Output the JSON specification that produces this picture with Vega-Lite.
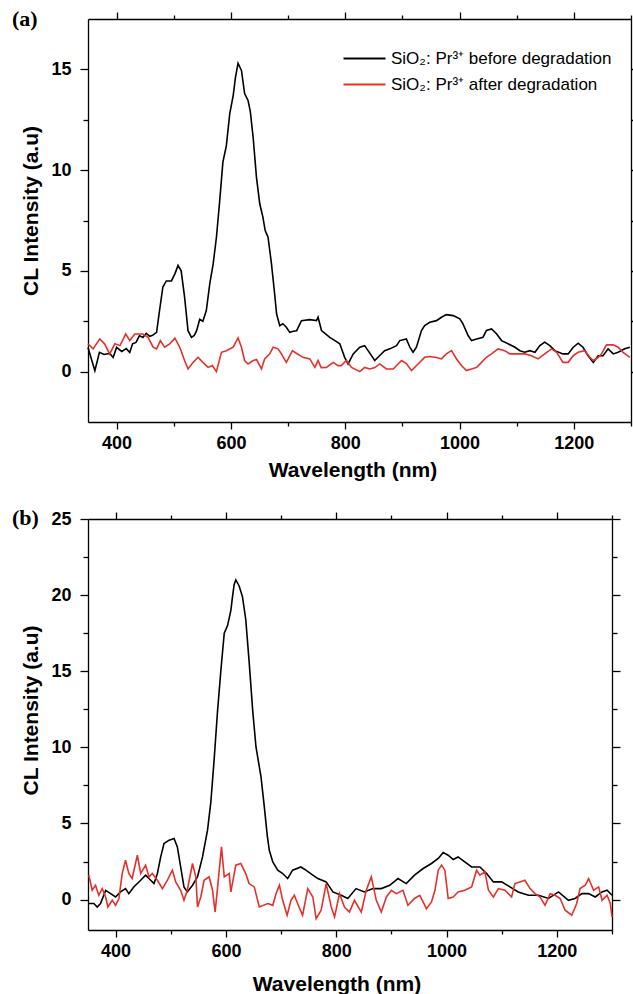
{
"$schema": "https://vega.github.io/schema/vega-lite/v6.json",
"padding": {"left": 12, "top": 8, "right": 0, "bottom": 0},
"background": "white",
"bounds": "flush",
"spacing": 97,
"config": {
  "font": "Liberation Sans",
  "view": {"stroke": null},
  "axis": {"grid": false, "domainColor": "black", "tickColor": "black", "labelColor": "black", "titleColor": "black", "labelFont": "Liberation Sans", "labelFontWeight": "bold", "labelFontSize": 18, "titleFont": "Liberation Sans", "titleFontSize": 21, "titleFontWeight": "bold", "domainWidth": 1.3, "tickWidth": 1.3, "labelOverlap": false, "labelFlush": false, "format": "d"},
  "legend": {"orient": "none", "title": null, "symbolType": "M-3,0H3", "symbolSize": 196, "symbolStrokeWidth": 1.8, "labelFont": "Liberation Sans", "labelFontSize": 17, "labelColor": "black", "labelOffset": 18, "rowPadding": 6, "padding": 0, "labelLimit": 0}
},
"datasets": {
"a": [
{"series":"before","wl":350,"intensity":1.2},{"series":"before","wl":362,"intensity":0.05},{"series":"before","wl":370,"intensity":0.96},{"series":"before","wl":378,"intensity":0.85},{"series":"before","wl":388,"intensity":0.9},{"series":"before","wl":394,"intensity":0.7},{"series":"before","wl":400,"intensity":1.2},{"series":"before","wl":409,"intensity":1.0},{"series":"before","wl":417,"intensity":1.14},{"series":"before","wl":423,"intensity":0.95},{"series":"before","wl":428,"intensity":1.38},{"series":"before","wl":434,"intensity":1.45},{"series":"before","wl":440,"intensity":1.79},{"series":"before","wl":446,"intensity":1.7},{"series":"before","wl":452,"intensity":1.9},{"series":"before","wl":458,"intensity":1.75},{"series":"before","wl":463,"intensity":1.8},{"series":"before","wl":470,"intensity":1.95},{"series":"before","wl":475,"intensity":3.0},{"series":"before","wl":481,"intensity":4.2},{"series":"before","wl":487,"intensity":4.5},{"series":"before","wl":496,"intensity":4.5},{"series":"before","wl":502,"intensity":4.85},{"series":"before","wl":507.5,"intensity":5.27},{"series":"before","wl":513,"intensity":5.0},{"series":"before","wl":519,"intensity":3.7},{"series":"before","wl":525,"intensity":2.03},{"series":"before","wl":531,"intensity":1.7},{"series":"before","wl":536,"intensity":1.8},{"series":"before","wl":540,"intensity":2.03},{"series":"before","wl":545.5,"intensity":2.6},{"series":"before","wl":551,"intensity":2.5},{"series":"before","wl":557,"intensity":3.03},{"series":"before","wl":563,"intensity":4.35},{"series":"before","wl":569,"intensity":5.35},{"series":"before","wl":574.7,"intensity":6.67},{"series":"before","wl":580.5,"intensity":8.5},{"series":"before","wl":586,"intensity":10.4},{"series":"before","wl":592,"intensity":11.2},{"series":"before","wl":598,"intensity":12.8},{"series":"before","wl":604,"intensity":13.7},{"series":"before","wl":608,"intensity":14.6},{"series":"before","wl":612.5,"intensity":15.3},{"series":"before","wl":618.5,"intensity":14.95},{"series":"before","wl":624,"intensity":13.8},{"series":"before","wl":630,"intensity":13.46},{"series":"before","wl":634,"intensity":12.9},{"series":"before","wl":639,"intensity":11.6},{"series":"before","wl":644.7,"intensity":9.65},{"series":"before","wl":650.5,"intensity":8.33},{"series":"before","wl":656,"intensity":7.67},{"series":"before","wl":660,"intensity":7.0},{"series":"before","wl":665,"intensity":6.67},{"series":"before","wl":671,"intensity":5.35},{"series":"before","wl":676,"intensity":4.0},{"series":"before","wl":680,"intensity":2.86},{"series":"before","wl":685.5,"intensity":2.28},{"series":"before","wl":691,"intensity":2.38},{"series":"before","wl":697,"intensity":2.2},{"series":"before","wl":703,"intensity":1.95},{"series":"before","wl":709,"intensity":2.0},{"series":"before","wl":715,"intensity":2.03},{"series":"before","wl":723.5,"intensity":2.53},{"series":"before","wl":738,"intensity":2.58},{"series":"before","wl":749.7,"intensity":2.53},{"series":"before","wl":752.5,"intensity":2.7},{"series":"before","wl":758.5,"intensity":2.04},{"series":"before","wl":773,"intensity":1.7},{"series":"before","wl":782,"intensity":1.54},{"series":"before","wl":790.5,"intensity":1.38},{"series":"before","wl":799,"intensity":0.71},{"series":"before","wl":805,"intensity":0.38},{"series":"before","wl":814,"intensity":0.88},{"series":"before","wl":825.5,"intensity":1.21},{"series":"before","wl":834,"intensity":1.29},{"series":"before","wl":840,"intensity":1.04},{"series":"before","wl":851.7,"intensity":0.55},{"series":"before","wl":860.5,"intensity":0.8},{"series":"before","wl":869,"intensity":1.04},{"series":"before","wl":878,"intensity":1.13},{"series":"before","wl":889.7,"intensity":1.29},{"series":"before","wl":895.5,"intensity":1.54},{"series":"before","wl":907,"intensity":1.62},{"series":"before","wl":913,"intensity":1.21},{"series":"before","wl":918.7,"intensity":0.96},{"series":"before","wl":924.6,"intensity":1.21},{"series":"before","wl":933.4,"intensity":2.04},{"series":"before","wl":939,"intensity":2.28},{"series":"before","wl":948,"intensity":2.45},{"series":"before","wl":959.7,"intensity":2.53},{"series":"before","wl":968.4,"intensity":2.7},{"series":"before","wl":977,"intensity":2.83},{"series":"before","wl":989,"intensity":2.78},{"series":"before","wl":1000.5,"intensity":2.62},{"series":"before","wl":1006,"intensity":2.37},{"series":"before","wl":1015,"intensity":1.79},{"series":"before","wl":1021,"intensity":1.54},{"series":"before","wl":1030,"intensity":1.62},{"series":"before","wl":1041,"intensity":1.7},{"series":"before","wl":1047,"intensity":2.04},{"series":"before","wl":1056,"intensity":2.12},{"series":"before","wl":1065,"intensity":1.87},{"series":"before","wl":1073.5,"intensity":1.54},{"series":"before","wl":1085,"intensity":1.38},{"series":"before","wl":1097,"intensity":1.21},{"series":"before","wl":1105.5,"intensity":1.04},{"series":"before","wl":1114,"intensity":0.96},{"series":"before","wl":1123,"intensity":1.04},{"series":"before","wl":1132,"intensity":0.96},{"series":"before","wl":1140.5,"intensity":1.29},{"series":"before","wl":1149,"intensity":1.46},{"series":"before","wl":1158,"intensity":1.29},{"series":"before","wl":1166.7,"intensity":1.04},{"series":"before","wl":1181,"intensity":0.88},{"series":"before","wl":1190,"intensity":0.88},{"series":"before","wl":1199,"intensity":1.21},{"series":"before","wl":1207.5,"intensity":1.41},{"series":"before","wl":1216,"intensity":1.21},{"series":"before","wl":1225,"intensity":0.79},{"series":"before","wl":1234,"intensity":0.46},{"series":"before","wl":1242.5,"intensity":0.79},{"series":"before","wl":1251,"intensity":0.79},{"series":"before","wl":1260,"intensity":1.13},{"series":"before","wl":1269,"intensity":0.88},{"series":"before","wl":1277.5,"intensity":0.96},{"series":"before","wl":1289,"intensity":1.13},{"series":"before","wl":1298,"intensity":1.21},
{"series":"after","wl":350,"intensity":1.38},{"series":"after","wl":359,"intensity":1.13},{"series":"after","wl":370.5,"intensity":1.62},{"series":"after","wl":379,"intensity":1.38},{"series":"after","wl":388,"intensity":0.88},{"series":"after","wl":397,"intensity":1.38},{"series":"after","wl":406,"intensity":1.29},{"series":"after","wl":416,"intensity":1.87},{"series":"after","wl":423,"intensity":1.54},{"series":"after","wl":432,"intensity":1.87},{"series":"after","wl":446,"intensity":1.87},{"series":"after","wl":455,"intensity":1.7},{"series":"after","wl":464,"intensity":1.21},{"series":"after","wl":470,"intensity":1.13},{"series":"after","wl":476.6,"intensity":1.54},{"series":"after","wl":484,"intensity":1.21},{"series":"after","wl":493,"intensity":1.38},{"series":"after","wl":502,"intensity":1.66},{"series":"after","wl":510.5,"intensity":1.21},{"series":"after","wl":519,"intensity":0.55},{"series":"after","wl":525,"intensity":0.13},{"series":"after","wl":534,"intensity":0.46},{"series":"after","wl":542.5,"intensity":0.71},{"series":"after","wl":551,"intensity":0.46},{"series":"after","wl":560,"intensity":0.21},{"series":"after","wl":567.7,"intensity":0.3},{"series":"after","wl":574.6,"intensity":0.0},{"series":"after","wl":583.5,"intensity":0.96},{"series":"after","wl":592,"intensity":1.04},{"series":"after","wl":604,"intensity":1.21},{"series":"after","wl":612.5,"intensity":1.67},{"series":"after","wl":618.5,"intensity":1.21},{"series":"after","wl":624,"intensity":0.55},{"series":"after","wl":630,"intensity":0.38},{"series":"after","wl":639,"intensity":0.55},{"series":"after","wl":645,"intensity":0.6},{"series":"after","wl":653.5,"intensity":0.13},{"series":"after","wl":659,"intensity":0.63},{"series":"after","wl":668,"intensity":0.88},{"series":"after","wl":674,"intensity":1.21},{"series":"after","wl":682.5,"intensity":1.13},{"series":"after","wl":688.4,"intensity":0.88},{"series":"after","wl":697,"intensity":0.46},{"series":"after","wl":707.7,"intensity":1.04},{"series":"after","wl":715,"intensity":0.9},{"series":"after","wl":726,"intensity":0.71},{"series":"after","wl":738,"intensity":0.63},{"series":"after","wl":747,"intensity":0.21},{"series":"after","wl":752.5,"intensity":0.55},{"series":"after","wl":758,"intensity":0.2},{"series":"after","wl":767,"intensity":0.21},{"series":"after","wl":779,"intensity":0.46},{"series":"after","wl":787.5,"intensity":0.3},{"series":"after","wl":793,"intensity":0.3},{"series":"after","wl":802,"intensity":0.55},{"series":"after","wl":811,"intensity":0.21},{"series":"after","wl":825.5,"intensity":0.0},{"series":"after","wl":834,"intensity":0.21},{"series":"after","wl":843,"intensity":0.13},{"series":"after","wl":852,"intensity":0.2},{"series":"after","wl":860.5,"intensity":0.38},{"series":"after","wl":872,"intensity":0.13},{"series":"after","wl":884,"intensity":0.13},{"series":"after","wl":898.5,"intensity":0.55},{"series":"after","wl":907,"intensity":0.4},{"series":"after","wl":916,"intensity":0.05},{"series":"after","wl":927.5,"intensity":0.38},{"series":"after","wl":939,"intensity":0.71},{"series":"after","wl":948,"intensity":0.75},{"series":"after","wl":959.7,"intensity":0.7},{"series":"after","wl":968.4,"intensity":0.63},{"series":"after","wl":977,"intensity":0.88},{"series":"after","wl":986,"intensity":1.04},{"series":"after","wl":994.7,"intensity":0.63},{"series":"after","wl":1003.5,"intensity":0.3},{"series":"after","wl":1012,"intensity":0.05},{"series":"after","wl":1021,"intensity":0.13},{"series":"after","wl":1030,"intensity":0.21},{"series":"after","wl":1038.5,"intensity":0.46},{"series":"after","wl":1047,"intensity":0.71},{"series":"after","wl":1056,"intensity":0.88},{"series":"after","wl":1067.5,"intensity":1.13},{"series":"after","wl":1079,"intensity":1.04},{"series":"after","wl":1088,"intensity":0.88},{"series":"after","wl":1103,"intensity":0.88},{"series":"after","wl":1114,"intensity":0.88},{"series":"after","wl":1126,"intensity":0.79},{"series":"after","wl":1137.5,"intensity":0.63},{"series":"after","wl":1149,"intensity":0.88},{"series":"after","wl":1161,"intensity":1.13},{"series":"after","wl":1170,"intensity":0.96},{"series":"after","wl":1181,"intensity":0.46},{"series":"after","wl":1190,"intensity":0.46},{"series":"after","wl":1199,"intensity":0.79},{"series":"after","wl":1207.5,"intensity":0.96},{"series":"after","wl":1219,"intensity":1.04},{"series":"after","wl":1228,"intensity":0.71},{"series":"after","wl":1234,"intensity":0.55},{"series":"after","wl":1242.5,"intensity":0.7},{"series":"after","wl":1248.5,"intensity":0.88},{"series":"after","wl":1257,"intensity":1.33},{"series":"after","wl":1269,"intensity":1.33},{"series":"after","wl":1277.5,"intensity":1.21},{"series":"after","wl":1286,"intensity":0.96},{"series":"after","wl":1298,"intensity":0.71}
],
"b": [
{"series":"before","wl":351.5,"intensity":-0.26},{"series":"before","wl":360.5,"intensity":-0.26},{"series":"before","wl":366.7,"intensity":-0.49},{"series":"before","wl":372.7,"intensity":-0.26},{"series":"before","wl":382,"intensity":0.6},{"series":"before","wl":391,"intensity":0.39},{"series":"before","wl":400,"intensity":0.17},{"series":"before","wl":409,"intensity":0.5},{"series":"before","wl":418,"intensity":0.72},{"series":"before","wl":424,"intensity":0.39},{"series":"before","wl":433,"intensity":0.83},{"series":"before","wl":445.5,"intensity":1.27},{"series":"before","wl":454.5,"intensity":1.6},{"series":"before","wl":460.5,"intensity":1.38},{"series":"before","wl":469.6,"intensity":1.05},{"series":"before","wl":475.8,"intensity":1.71},{"series":"before","wl":481.8,"intensity":2.8},{"series":"before","wl":487.8,"intensity":3.68},{"series":"before","wl":497,"intensity":3.9},{"series":"before","wl":506,"intensity":4.01},{"series":"before","wl":512,"intensity":3.46},{"series":"before","wl":518,"intensity":2.14},{"series":"before","wl":524,"intensity":0.83},{"series":"before","wl":530,"intensity":0.5},{"series":"before","wl":539.5,"intensity":0.94},{"series":"before","wl":548.5,"intensity":1.49},{"series":"before","wl":557.6,"intensity":2.8},{"series":"before","wl":566.7,"intensity":4.56},{"series":"before","wl":572.7,"intensity":6.4},{"series":"before","wl":578.7,"intensity":9.2},{"series":"before","wl":585,"intensity":12.45},{"series":"before","wl":591,"intensity":15.1},{"series":"before","wl":597,"intensity":17.5},{"series":"before","wl":603,"intensity":18.0},{"series":"before","wl":609,"intensity":19.0},{"series":"before","wl":612,"intensity":19.9},{"series":"before","wl":615,"intensity":20.7},{"series":"before","wl":618,"intensity":21.0},{"series":"before","wl":624,"intensity":20.6},{"series":"before","wl":630,"intensity":19.9},{"series":"before","wl":636,"intensity":18.4},{"series":"before","wl":642,"intensity":15.7},{"series":"before","wl":648.5,"intensity":12.45},{"series":"before","wl":654.5,"intensity":10.04},{"series":"before","wl":663.6,"intensity":8.07},{"series":"before","wl":669.6,"intensity":6.1},{"series":"before","wl":675,"intensity":4.2},{"series":"before","wl":678.7,"intensity":3.24},{"series":"before","wl":685,"intensity":2.47},{"series":"before","wl":694,"intensity":1.93},{"series":"before","wl":703,"intensity":1.71},{"series":"before","wl":712,"intensity":1.38},{"series":"before","wl":721,"intensity":1.93},{"series":"before","wl":736,"intensity":2.14},{"series":"before","wl":745,"intensity":1.93},{"series":"before","wl":757.6,"intensity":1.6},{"series":"before","wl":766.7,"intensity":1.38},{"series":"before","wl":781.8,"intensity":1.16},{"series":"before","wl":794,"intensity":0.5},{"series":"before","wl":809,"intensity":0.28},{"series":"before","wl":821,"intensity":0.07},{"series":"before","wl":836,"intensity":0.72},{"series":"before","wl":851,"intensity":0.5},{"series":"before","wl":866.7,"intensity":0.72},{"series":"before","wl":881.8,"intensity":0.72},{"series":"before","wl":897,"intensity":0.94},{"series":"before","wl":912,"intensity":1.38},{"series":"before","wl":927,"intensity":1.05},{"series":"before","wl":942,"intensity":1.6},{"series":"before","wl":957.6,"intensity":2.04},{"series":"before","wl":972.7,"intensity":2.37},{"series":"before","wl":985,"intensity":2.7},{"series":"before","wl":994,"intensity":3.09},{"series":"before","wl":1003,"intensity":2.91},{"series":"before","wl":1012,"intensity":2.63},{"series":"before","wl":1021,"intensity":2.8},{"series":"before","wl":1033,"intensity":2.47},{"series":"before","wl":1045.5,"intensity":2.14},{"series":"before","wl":1060.5,"intensity":2.14},{"series":"before","wl":1072.7,"intensity":1.71},{"series":"before","wl":1085,"intensity":1.16},{"series":"before","wl":1100,"intensity":1.16},{"series":"before","wl":1115,"intensity":0.83},{"series":"before","wl":1130,"intensity":0.5},{"series":"before","wl":1148.5,"intensity":0.28},{"series":"before","wl":1166.7,"intensity":0.28},{"series":"before","wl":1185,"intensity":0.07},{"series":"before","wl":1203,"intensity":0.5},{"series":"before","wl":1221,"intensity":-0.05},{"series":"before","wl":1233,"intensity":0.07},{"series":"before","wl":1245.5,"intensity":0.39},{"series":"before","wl":1257.6,"intensity":0.39},{"series":"before","wl":1269.6,"intensity":0.17},{"series":"before","wl":1281.8,"intensity":0.5},{"series":"before","wl":1291,"intensity":0.61},{"series":"before","wl":1300,"intensity":0.28},
{"series":"after","wl":351.5,"intensity":1.6},{"series":"after","wl":357.6,"intensity":0.61},{"series":"after","wl":363.6,"intensity":0.94},{"series":"after","wl":369.6,"intensity":0.28},{"series":"after","wl":375.8,"intensity":0.72},{"series":"after","wl":382,"intensity":0.17},{"series":"after","wl":386,"intensity":-0.49},{"series":"after","wl":394,"intensity":-0.05},{"series":"after","wl":400,"intensity":-0.38},{"series":"after","wl":406,"intensity":0.07},{"series":"after","wl":412,"intensity":1.71},{"series":"after","wl":418,"intensity":2.58},{"series":"after","wl":424,"intensity":1.71},{"series":"after","wl":430,"intensity":1.38},{"series":"after","wl":439.5,"intensity":2.91},{"series":"after","wl":445.5,"intensity":1.71},{"series":"after","wl":454.5,"intensity":2.26},{"series":"after","wl":460.5,"intensity":1.49},{"series":"after","wl":466.7,"intensity":1.71},{"series":"after","wl":475.8,"intensity":1.27},{"series":"after","wl":485,"intensity":0.72},{"series":"after","wl":494,"intensity":1.27},{"series":"after","wl":503,"intensity":1.93},{"series":"after","wl":509,"intensity":1.16},{"series":"after","wl":518,"intensity":0.61},{"series":"after","wl":524,"intensity":-0.05},{"series":"after","wl":530,"intensity":0.61},{"series":"after","wl":539.5,"intensity":2.37},{"series":"after","wl":545.5,"intensity":1.49},{"series":"after","wl":548.5,"intensity":-0.49},{"series":"after","wl":554.5,"intensity":0.17},{"series":"after","wl":560.5,"intensity":1.27},{"series":"after","wl":569.6,"intensity":1.49},{"series":"after","wl":575.8,"intensity":0.61},{"series":"after","wl":580.5,"intensity":-0.82},{"series":"after","wl":585,"intensity":0.83},{"series":"after","wl":592,"intensity":3.46},{"series":"after","wl":597,"intensity":1.49},{"series":"after","wl":606,"intensity":1.71},{"series":"after","wl":609,"intensity":0.5},{"series":"after","wl":618,"intensity":2.26},{"series":"after","wl":627,"intensity":2.37},{"series":"after","wl":636,"intensity":1.71},{"series":"after","wl":642,"intensity":1.05},{"series":"after","wl":651.5,"intensity":0.83},{"series":"after","wl":660.5,"intensity":-0.49},{"series":"after","wl":676,"intensity":-0.26},{"series":"after","wl":685,"intensity":-0.38},{"series":"after","wl":691,"intensity":0.39},{"series":"after","wl":697,"intensity":0.94},{"series":"after","wl":703,"intensity":-0.05},{"series":"after","wl":711,"intensity":-1.03},{"series":"after","wl":718,"intensity":-0.05},{"series":"after","wl":724,"intensity":0.28},{"series":"after","wl":730,"intensity":-0.26},{"series":"after","wl":739,"intensity":-1.03},{"series":"after","wl":748.5,"intensity":0.72},{"series":"after","wl":757.6,"intensity":0.17},{"series":"after","wl":763.6,"intensity":-1.25},{"series":"after","wl":772.7,"intensity":-0.7},{"series":"after","wl":781.8,"intensity":1.05},{"series":"after","wl":791,"intensity":-0.49},{"series":"after","wl":797,"intensity":-1.14},{"series":"after","wl":806,"intensity":0.39},{"series":"after","wl":815,"intensity":-0.49},{"series":"after","wl":824,"intensity":-0.82},{"series":"after","wl":833,"intensity":-0.05},{"series":"after","wl":845.5,"intensity":-0.82},{"series":"after","wl":854.5,"intensity":0.61},{"series":"after","wl":863.6,"intensity":1.49},{"series":"after","wl":872.7,"intensity":-0.05},{"series":"after","wl":881.8,"intensity":-0.82},{"series":"after","wl":891,"intensity":0.17},{"series":"after","wl":900,"intensity":0.61},{"series":"after","wl":909,"intensity":0.39},{"series":"after","wl":921,"intensity":0.61},{"series":"after","wl":930,"intensity":-0.38},{"series":"after","wl":942,"intensity":0.07},{"series":"after","wl":951.5,"intensity":0.28},{"series":"after","wl":963.6,"intensity":-0.6},{"series":"after","wl":972.7,"intensity":-0.16},{"series":"after","wl":979,"intensity":0.61},{"series":"after","wl":985,"intensity":1.93},{"series":"after","wl":991,"intensity":2.26},{"series":"after","wl":997,"intensity":1.93},{"series":"after","wl":1003,"intensity":0.07},{"series":"after","wl":1012,"intensity":0.17},{"series":"after","wl":1021,"intensity":0.5},{"series":"after","wl":1033,"intensity":0.61},{"series":"after","wl":1045.5,"intensity":0.83},{"series":"after","wl":1054.5,"intensity":1.93},{"series":"after","wl":1060.5,"intensity":1.6},{"series":"after","wl":1069.6,"intensity":1.82},{"series":"after","wl":1076,"intensity":0.61},{"series":"after","wl":1085,"intensity":0.17},{"series":"after","wl":1094,"intensity":0.72},{"series":"after","wl":1106,"intensity":0.61},{"series":"after","wl":1118,"intensity":0.17},{"series":"after","wl":1124,"intensity":1.05},{"series":"after","wl":1133,"intensity":1.16},{"series":"after","wl":1142,"intensity":1.27},{"series":"after","wl":1151.5,"intensity":0.72},{"series":"after","wl":1160.5,"intensity":0.39},{"series":"after","wl":1169.6,"intensity":0.17},{"series":"after","wl":1178.7,"intensity":-0.38},{"series":"after","wl":1187.8,"intensity":0.39},{"series":"after","wl":1197,"intensity":0.28},{"series":"after","wl":1206,"intensity":0.07},{"series":"after","wl":1215,"intensity":-0.7},{"series":"after","wl":1227,"intensity":-1.03},{"series":"after","wl":1236,"intensity":-0.26},{"series":"after","wl":1242,"intensity":0.72},{"series":"after","wl":1251.5,"intensity":0.94},{"series":"after","wl":1257.6,"intensity":1.38},{"series":"after","wl":1266.7,"intensity":0.61},{"series":"after","wl":1275.8,"intensity":0.83},{"series":"after","wl":1282,"intensity":-0.05},{"series":"after","wl":1291,"intensity":0.28},{"series":"after","wl":1297,"intensity":-0.26},{"series":"after","wl":1300,"intensity":-1.14}
]
},
"vconcat": [
{
  "width": 543, "height": 403,
  "data": {"name": "a"},
  "title": {"text": "(a)", "anchor": "start", "frame": "group", "font": "Liberation Serif", "fontSize": 22, "fontWeight": "bold", "color": "black", "baseline": "alphabetic", "offset": 0, "dx": -76, "dy": 37},
  "layer": [
    {"mark": {"type": "line", "strokeWidth": 1.6},
     "encoding": {
       "x": {"field": "wl", "type": "quantitative", "scale": {"domain": [350, 1300], "nice": false, "zero": false},
             "axis": {"values": [400,500,600,700,800,900,1000,1100,1200,1300], "labelExpr": "datum.value % 200 == 0 ? datum.label : ''", "tickSize": {"condition": {"test": "datum.value % 200 == 0", "value": 7}, "value": 4}, "labelPadding": 5, "title": "Wavelength (nm)", "titleX": 264.5, "titleY": 54, "titleBaseline": "alphabetic", "titleAlign": "center"}},
       "y": {"field": "intensity", "type": "quantitative", "scale": {"domain": [-2.5, 17.5], "nice": false, "zero": false},
             "axis": {"values": [0,2.5,5,7.5,10,12.5,15], "labelExpr": "datum.value % 5 == 0 ? datum.label : ''", "tickSize": {"condition": {"test": "datum.value % 5 == 0", "value": 8}, "value": 5}, "labelPadding": 9, "title": "CL Intensity (a.u)", "titleX": -51, "titleY": 191.5, "titleBaseline": "alphabetic", "titleAlign": "center", "titleAngle": -90}},
       "color": {"field": "series", "type": "nominal", "scale": {"domain": ["before", "after"], "range": ["#000000", "#e3312b"]},
                 "legend": {"legendX": 268, "legendY": 31, "labelExpr": "datum.label == 'before' ? 'SiO₂: Pr³⁺ before degradation' : 'SiO₂: Pr³⁺ after degradation'"}}
     }},
    {"mark": {"type": "line", "opacity": 0},
     "encoding": {
       "x": {"field": "wl", "type": "quantitative", "axis": {"orient": "top", "values": [400,500,600,700,800,900,1000,1100,1200,1300], "labels": false, "title": null, "tickSize": {"condition": {"test": "datum.value % 200 == 0", "value": 7}, "value": 4}}},
       "y": {"field": "intensity", "type": "quantitative", "axis": {"orient": "right", "values": [0,2.5,5,7.5,10,12.5,15], "labels": false, "title": null, "tickSize": {"condition": {"test": "datum.value % 5 == 0", "value": 8}, "value": 5}}}
     }}
  ],
  "resolve": {"axis": {"x": "independent", "y": "independent"}}
},
{
  "width": 524, "height": 411,
  "data": {"name": "b"},
  "title": {"text": "(b)", "anchor": "start", "frame": "group", "font": "Liberation Serif", "fontSize": 22, "fontWeight": "bold", "color": "black", "baseline": "alphabetic", "offset": 0, "dx": -76, "dy": 37},
  "layer": [
    {"mark": {"type": "line", "strokeWidth": 1.6},
     "encoding": {
       "x": {"field": "wl", "type": "quantitative", "scale": {"domain": [350, 1300], "nice": false, "zero": false},
             "axis": {"values": [400,500,600,700,800,900,1000,1100,1200,1300], "labelExpr": "datum.value % 200 == 0 ? datum.label : ''", "tickSize": {"condition": {"test": "datum.value % 200 == 0", "value": 7}, "value": 4}, "labelPadding": 5, "title": "Wavelength (nm)", "titleX": 248.5, "titleY": 60, "titleBaseline": "alphabetic", "titleAlign": "center"}},
       "y": {"field": "intensity", "type": "quantitative", "scale": {"domain": [-2, 25], "nice": false, "zero": false},
             "axis": {"values": [0,2.5,5,7.5,10,12.5,15,17.5,20,22.5,25], "labelExpr": "datum.value % 5 == 0 ? datum.label : ''", "tickSize": {"condition": {"test": "datum.value % 5 == 0", "value": 8}, "value": 5}, "labelPadding": 9, "title": "CL Intensity (a.u)", "titleX": -51, "titleY": 191, "titleBaseline": "alphabetic", "titleAlign": "center", "titleAngle": -90}},
       "color": {"field": "series", "type": "nominal", "scale": {"domain": ["before", "after"], "range": ["#000000", "#e3312b"]},
                 "legend": {"legendX": 210, "legendY": 19, "rowPadding": 8, "labelExpr": "datum.label == 'before' ? 'ZnO.SiO₂: Pr³⁺ before degradation' : 'ZnO.SiO₂: Pr³⁺ after degradation'"}}
     }},
    {"mark": {"type": "line", "opacity": 0},
     "encoding": {
       "x": {"field": "wl", "type": "quantitative", "axis": {"orient": "top", "values": [400,500,600,700,800,900,1000,1100,1200,1300], "labels": false, "title": null, "tickSize": {"condition": {"test": "datum.value % 200 == 0", "value": 7}, "value": 4}}},
       "y": {"field": "intensity", "type": "quantitative", "axis": {"orient": "right", "values": [0,2.5,5,7.5,10,12.5,15,17.5,20,22.5,25], "labels": false, "title": null, "tickSize": {"condition": {"test": "datum.value % 5 == 0", "value": 8}, "value": 5}}}
     }}
  ],
  "resolve": {"axis": {"x": "independent", "y": "independent"}}
}
]
}
